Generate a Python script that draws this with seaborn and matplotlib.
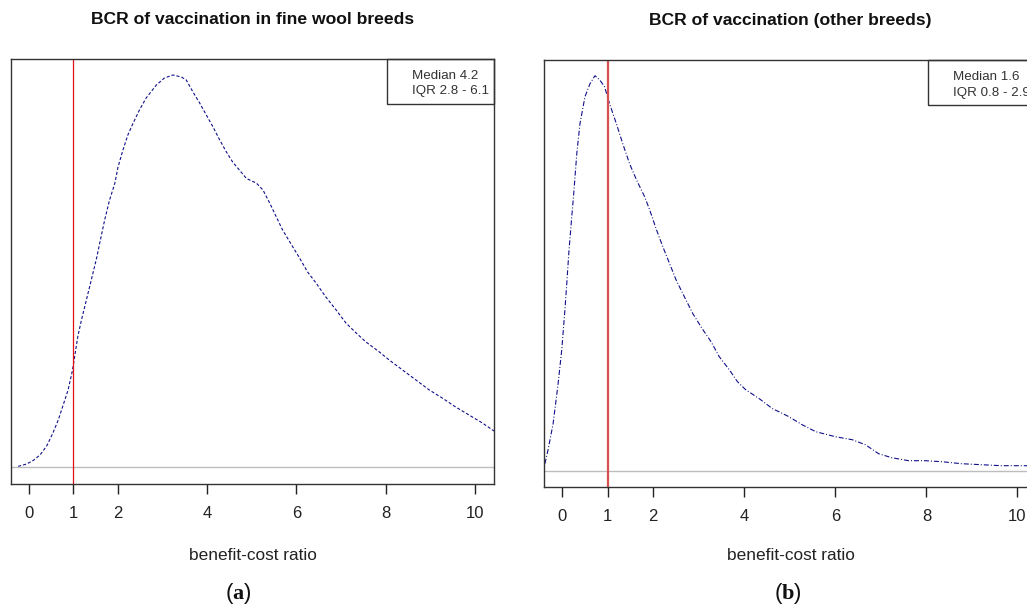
import numpy as np
import pandas as pd
import seaborn as sns
import matplotlib.pyplot as plt
from matplotlib.patches import Rectangle

# density curves (relative height, baseline = 0)
fine_x = [-0.24, -0.05, 0.10, 0.25, 0.40, 0.54, 0.66, 0.77, 0.88, 0.98, 1.10, 1.18, 1.29,
          1.40, 1.52, 1.59, 1.70, 1.81, 1.93, 2.00, 2.11, 2.22, 2.34, 2.48, 2.63, 2.86,
          3.04, 3.23, 3.42, 3.53, 3.68, 3.83, 3.98, 4.13, 4.28, 4.43, 4.57, 4.72, 4.87,
          4.95, 5.10, 5.25, 5.40, 5.55, 5.69, 5.92, 6.07, 6.25, 6.44, 6.66, 6.89, 7.11,
          7.34, 7.56, 7.86, 8.08, 8.38, 8.68, 8.98, 9.27, 9.57, 9.87, 10.17, 10.43]
fine_d = [0.6, 3, 6.6, 12, 21, 34, 47, 62, 77, 97, 131, 147, 167,
          187, 209, 224, 247, 267, 284, 300, 317, 332, 344, 357, 369, 382,
          389, 392, 390, 387, 375, 364, 352, 340, 327, 315, 305, 297, 289,
          287, 284, 277, 264, 250, 237, 220, 209, 195, 184, 170, 157, 144,
          134, 125, 115, 107, 97, 87, 77, 69, 60, 52, 44, 36]

other_x = [-0.38, -0.31, -0.20, -0.09, -0.01, 0.06, 0.10, 0.15, 0.21, 0.26, 0.32, 0.39,
           0.50, 0.61, 0.72, 0.82, 0.93, 1.04, 1.19, 1.33, 1.48, 1.63, 1.81, 1.92, 2.07,
           2.21, 2.36, 2.50, 2.65, 2.87, 3.09, 3.27, 3.45, 3.67, 3.85, 4.03, 4.33, 4.62,
           4.76, 4.98, 5.27, 5.57, 6.00, 6.37, 6.66, 6.95, 7.24, 7.61, 7.97, 8.34, 8.77,
           9.21, 9.65, 10.17, 10.43]
other_d = [7, 21, 47, 87, 121, 161, 187, 221, 254, 281, 317, 347,
           374, 387, 395, 391, 384, 367, 347, 327, 307, 291, 274, 261, 241,
           224, 207, 191, 177, 157, 141, 129, 114, 101, 89, 81, 72, 62,
           59, 54, 46, 39, 34, 31, 26, 17, 13, 10, 10, 9, 7,
           6, 5, 5, 5]

titles = ['BCR of vaccination in fine wool breeds', 'BCR of vaccination (other breeds)']
stats = ['Median 4.2\nIQR 2.8 - 6.1', 'Median 1.6\nIQR 0.8 - 2.9']
panel_tags = [r'($\mathbf{a}$)', r'($\mathbf{b}$)']
ticks = [0, 1, 2, 4, 6, 8, 10]
breakeven = 1

sns.set_style('white')
plt.rcParams['font.family'] = ['Liberation Sans', 'DejaVu Sans']
plt.rcParams['mathtext.fontset'] = 'custom'
plt.rcParams['mathtext.rm'] = 'Liberation Serif'
plt.rcParams['mathtext.bf'] = 'Liberation Serif:bold'

W, H = 1027, 608
fig = plt.figure(figsize=(W / 100, H / 100), dpi=100)

# axes boxes in pixels: left, top, right, bottom
boxes = [(11, 59, 494, 484), (544, 60, 1037, 487)]
curves = [(fine_x, fine_d), (other_x, other_d)]
styles = [(0, (2.8, 1.8)), (0, (4.5, 1.8, 0.9, 1.8))]
reds = [('#e01010', 0.9), ('#d65050', 1.6)]
ylims = [(-17, 408), (-16.3, 410.7)]
tag_x = [238, 788]

for i in range(2):
    l, t, r, b = boxes[i]
    ax = fig.add_axes([l / W, 1 - b / H, (r - l) / W, (b - t) / H])
    df = pd.DataFrame({'x': curves[i][0], 'd': curves[i][1]})
    sns.lineplot(data=df, x='x', y='d', ax=ax, color='#10108a', lw=0.8,
                 linestyle=styles[i], errorbar=None)
    ax.axhline(0, color='#bdbdbd', lw=1)
    ax.axvline(breakeven, color=reds[i][0], lw=reds[i][1])
    ax.set_xlim(-0.4, 10.43)
    ax.set_ylim(*ylims[i])
    ax.set_xticks(ticks)
    ax.set_yticks([])
    ax.set_xlabel('')
    ax.set_ylabel('')
    ax.tick_params(axis='x', direction='out', length=7, width=1, pad=9,
                   labelsize=12, colors='#222222', bottom=True)
    for s in ax.spines.values():
        s.set_color('#333333')
        s.set_linewidth(1)

    ax.add_patch(Rectangle((0.778, 0.894), 0.222, 0.106, transform=ax.transAxes,
                           fill=False, edgecolor='#333333', lw=1, clip_on=False))
    ax.text(0.83, 0.942, stats[i], transform=ax.transAxes, fontsize=9.6,
            color='#333333', ha='left', va='center', linespacing=1.4)

    cx = (l + r) / 2 / W
    fig.text(cx, 1 - 20 / H, titles[i], ha='center', va='center',
             fontsize=12.6, fontweight='bold', color='#111111')
    fig.text(cx, 1 - 556 / H, 'benefit-cost ratio', ha='center', va='center',
             fontsize=12.4, color='#222222')
    fig.text(tag_x[i] / W, 1 - 594 / H, panel_tags[i], ha='center', va='center',
             fontsize=16, color='#111111')

fig.savefig('out.png', dpi=100)
